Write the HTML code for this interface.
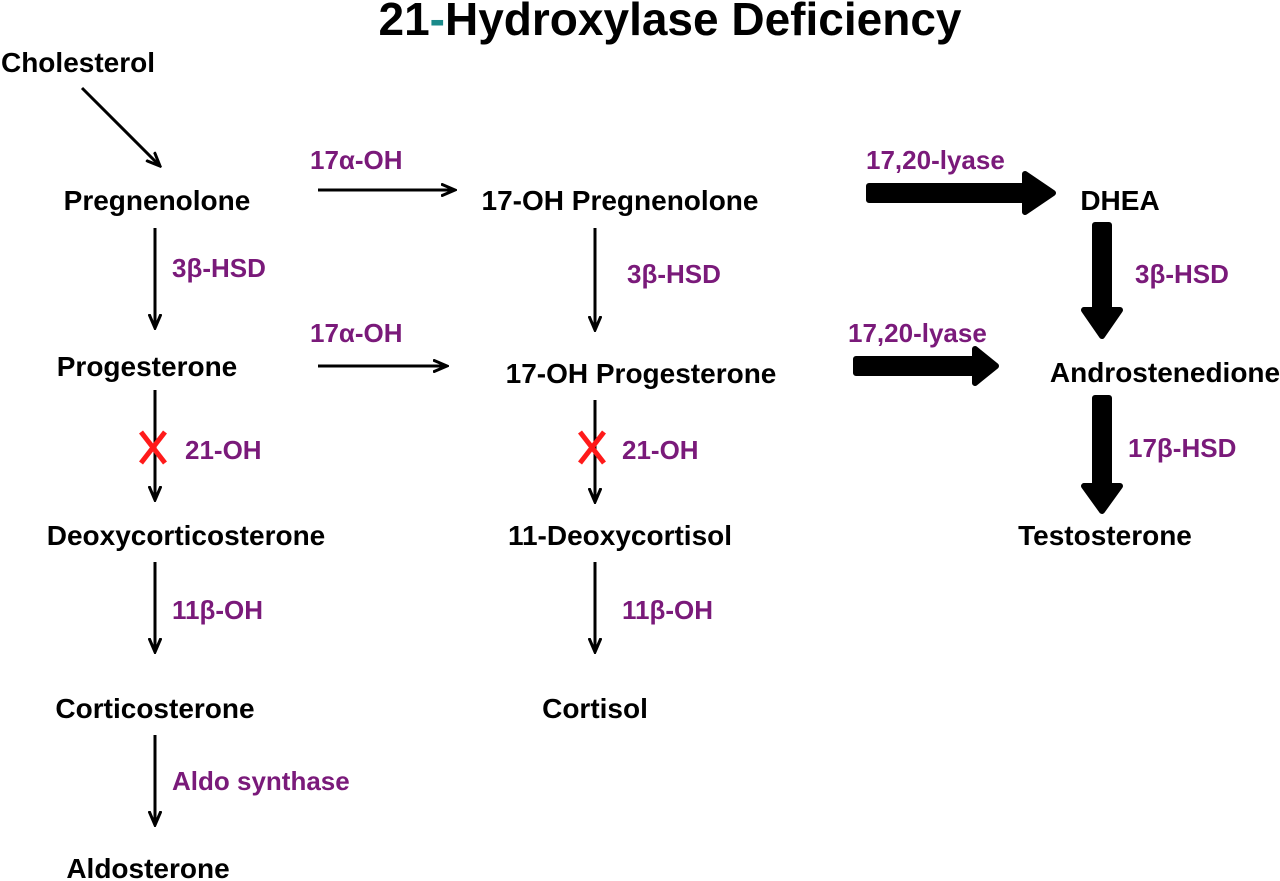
<!DOCTYPE html>
<html><head><meta charset="utf-8"><style>
html,body{margin:0;padding:0;background:#fff;}
svg{display:block;}
text{font-family:"Liberation Sans",Arial,sans-serif;font-weight:bold;}
.n{font-size:28px;fill:#000;text-anchor:middle;}
.e{font-size:26px;fill:#7a1a7a;}
</style></head><body>
<svg width="1280" height="881" viewBox="0 0 1280 881" xmlns="http://www.w3.org/2000/svg">
<defs>
<marker id="ah" markerWidth="16" markerHeight="14" refX="14" refY="7" orient="auto" markerUnits="userSpaceOnUse" viewBox="0 0 16 14">
<path d="M0,1 L14,7 L0,13" fill="none" stroke="#000" stroke-width="3"/>
</marker>
</defs>
<text x="670" y="35" text-anchor="middle" style="font-size:46px">21<tspan fill="#1a8a8a">-</tspan>Hydroxylase Deficiency</text>

<text class="n" x="78" y="72">Cholesterol</text>
<text class="n" x="157" y="210">Pregnenolone</text>
<text class="n" x="147" y="376">Progesterone</text>
<text class="n" x="186" y="545">Deoxycorticosterone</text>
<text class="n" x="155" y="718">Corticosterone</text>
<text class="n" x="148" y="878">Aldosterone</text>
<text class="n" x="620" y="210">17-OH Pregnenolone</text>
<text class="n" x="641" y="383">17-OH Progesterone</text>
<text class="n" x="620" y="545">11-Deoxycortisol</text>
<text class="n" x="595" y="718">Cortisol</text>
<text class="n" x="1120" y="210">DHEA</text>
<text class="n" x="1165" y="382">Androstenedione</text>
<text class="n" x="1105" y="545">Testosterone</text>

<g stroke="#000" stroke-width="3" marker-end="url(#ah)">
<line x1="82" y1="88" x2="160" y2="166"/>
<line x1="155" y1="228" x2="155" y2="328"/>
<line x1="155" y1="390" x2="155" y2="500"/>
<line x1="155" y1="562" x2="155" y2="652"/>
<line x1="155" y1="735" x2="155" y2="825"/>
<line x1="595" y1="228" x2="595" y2="330"/>
<line x1="595" y1="400" x2="595" y2="502"/>
<line x1="595" y1="562" x2="595" y2="652"/>
<line x1="318" y1="190" x2="455" y2="190"/>
<line x1="318" y1="366" x2="447" y2="366"/>
</g>

<g fill="#000" stroke="#000" stroke-width="6" stroke-linejoin="round">
<path d="M869,186 L1025,186 L1025,174 L1053,193 L1025,212 L1025,200 L869,200 Z"/>
<path d="M856,359 L975,359 L975,349 L996,366 L975,383 L975,373 L856,373 Z"/>
<path d="M1095,225 L1109,225 L1109,310 L1120,310 L1102,336 L1084,310 L1095,310 Z"/>
<path d="M1095,398 L1109,398 L1109,486 L1120,486 L1102,511 L1084,486 L1095,486 Z"/>
</g>

<text class="e" x="310" y="169">17α-OH</text>
<text class="e" x="310" y="342">17α-OH</text>
<text class="e" x="172" y="277">3β-HSD</text>
<text class="e" x="627" y="283">3β-HSD</text>
<text class="e" x="1135" y="283">3β-HSD</text>
<text class="e" x="185" y="459">21-OH</text>
<text class="e" x="622" y="459">21-OH</text>
<text class="e" x="172" y="619">11β-OH</text>
<text class="e" x="622" y="619">11β-OH</text>
<text class="e" x="172" y="790">Aldo synthase</text>
<text class="e" x="866" y="169">17,20-lyase</text>
<text class="e" x="848" y="342">17,20-lyase</text>
<text class="e" x="1128" y="457">17β-HSD</text>

<g stroke="#ff1a1a" stroke-width="5">
<line x1="141" y1="432" x2="165" y2="463"/>
<line x1="165" y1="432" x2="141" y2="463"/>
<line x1="580" y1="432" x2="604" y2="463"/>
<line x1="604" y1="432" x2="580" y2="463"/>
</g>
</svg>
</body></html>
